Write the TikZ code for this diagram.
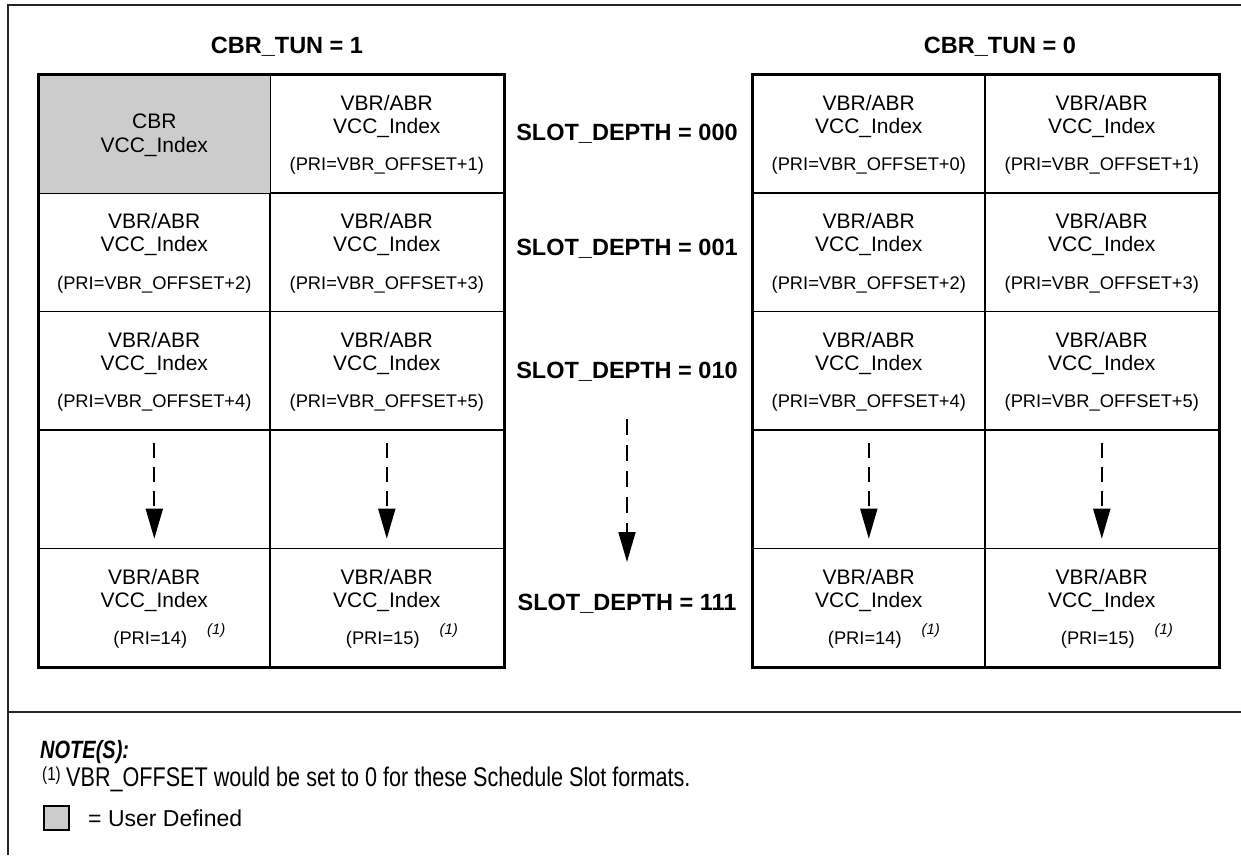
\documentclass[tikz,border=0pt]{standalone}
\usepackage{fontspec}
\setmainfont{Liberation Sans}
\newfontfamily\narrowfont[FakeStretch=0.8]{Liberation Sans}
\usetikzlibrary{arrows.meta}
\newcommand\vbrtext[2]{%
  \node[bigtxt] (#1a) at ([yshift=-29pt]#1.north) {VBR/ABR};
  \node[bigtxt] (#1b) at ([yshift=-54pt]#1.north) {VCC\_Index};
  \node[pritxt] (#1c) at ([yshift=-92pt]#1.north) {#2};}
\newcommand\lasttext[2]{%
  \node[bigtxt] (#1a) at ([yshift=-29pt]#1.north) {VBR/ABR};
  \node[bigtxt] (#1b) at ([yshift=-54pt]#1.north) {VCC\_Index};
  \node[pritxt] (#1c) at ([xshift=-4pt,yshift=-92pt]#1.north) {#2};
  \node[suptxt] (#1d) at ([xshift=62pt,yshift=-83pt]#1.north) {(1)};}
\begin{document}
\begin{tikzpicture}[x=1pt,y=-1pt,
  cellbox/.style={draw, line width=1.6pt, rectangle, minimum height=118.4pt, anchor=north west, inner sep=0pt},
  userfill/.style={fill=black!20},
  bigtxt/.style={font=\fontsize{21}{25}\selectfont, inner sep=0pt},
  pritxt/.style={font=\fontsize{18.3}{21}\selectfont, inner sep=0pt},
  suptxt/.style={font=\fontsize{15}{17}\selectfont\itshape, inner sep=0pt},
  hdrtxt/.style={font=\bfseries\fontsize{23.5}{28}\selectfont, inner sep=0pt},
  outerbox/.style={draw, line width=3pt},
  framelines/.style={draw=black!85, line width=1.8pt},
  dasharrow/.style={line width=1.8pt, dash pattern=on 15pt off 9pt, -{Triangle[length=30pt,width=17pt]}},
  notefont/.style={font=\narrowfont\fontsize{27}{31}\selectfont, inner sep=0pt, anchor=west},
]
\useasboundingbox (0,0) rectangle (1241,855);
% frame
\draw[framelines] (8,855) -- (8,5) -- (1241,5);
\draw[framelines] (8,712) -- (1241,712);

% titles
\node[hdrtxt] (t1) at (287,47) {CBR\_TUN = 1};
\node[hdrtxt] (t0) at (1000,47) {CBR\_TUN = 0};

% grids
\foreach \r/\y in {1/74,2/192.4,3/310.8,4/429.2,5/547.6}{
  \node[cellbox, minimum width=231pt] (L\r1) at (38,\y) {};
  \node[cellbox, minimum width=234pt] (L\r2) at (269,\y) {};
  \node[cellbox, minimum width=232pt] (R\r1) at (752,\y) {};
  \node[cellbox, minimum width=234pt] (R\r2) at (984,\y) {};
}
\fill[userfill] ([xshift=0.8pt,yshift=-0.8pt]L11.north west) rectangle ([xshift=-0.8pt,yshift=0.8pt]L11.south east);
\draw[outerbox] (L11.north west) rectangle (L52.south east);
\draw[outerbox] (R11.north west) rectangle (R52.south east);

% row 1
\node[bigtxt] (L11a) at ([yshift=13pt]L11.center) {CBR};
\node[bigtxt] (L11b) at ([yshift=-13pt]L11.center) {VCC\_Index};
\vbrtext{L12}{(PRI=VBR\_OFFSET+1)}
\vbrtext{R11}{(PRI=VBR\_OFFSET+0)}
\vbrtext{R12}{(PRI=VBR\_OFFSET+1)}
% row 2
\vbrtext{L21}{(PRI=VBR\_OFFSET+2)}
\vbrtext{L22}{(PRI=VBR\_OFFSET+3)}
\vbrtext{R21}{(PRI=VBR\_OFFSET+2)}
\vbrtext{R22}{(PRI=VBR\_OFFSET+3)}
% row 3
\vbrtext{L31}{(PRI=VBR\_OFFSET+4)}
\vbrtext{L32}{(PRI=VBR\_OFFSET+5)}
\vbrtext{R31}{(PRI=VBR\_OFFSET+4)}
\vbrtext{R32}{(PRI=VBR\_OFFSET+5)}
% row 5
\lasttext{L51}{(PRI=14)}
\lasttext{L52}{(PRI=15)}
\lasttext{R51}{(PRI=14)}
\lasttext{R52}{(PRI=15)}
% row 4 arrows
\foreach \c in {L41,L42,R41,R42}{
  \draw[dasharrow] ([yshift=-14pt]\c.north) -- ([yshift=10.5pt]\c.south);
}

% slot depth labels
\node[hdrtxt] (s000) at (627,134) {SLOT\_DEPTH = 000};
\node[hdrtxt] (s001) at (627,249) {SLOT\_DEPTH = 001};
\node[hdrtxt] (s010) at (627,372) {SLOT\_DEPTH = 010};
\node[hdrtxt] (s111) at (627,604) {SLOT\_DEPTH = 111};
\coordinate (mtop) at (627,419);
\coordinate (mbot) at (627,562);
\draw[dasharrow, dash pattern=on 16pt off 10pt] (mtop) -- (mbot);

% notes
\node[notefont, font=\narrowfont\bfseries\itshape\fontsize{25}{29}\selectfont] (notes) at (40,752) {NOTE(S):};
\node[notefont, font=\narrowfont\fontsize{19}{22}\selectfont] (fnmark) at (42,776) {(1)};
\node[notefont] (fn) at (66,779) {VBR\_OFFSET would be set to 0 for these Schedule Slot formats.};
\node[draw, fill=black!20, line width=1.5pt, minimum width=25pt, minimum height=24pt, inner sep=0pt] (legbox) at (56.5,818) {};
\node[inner sep=0pt, anchor=west, font=\fontsize{23}{27}\selectfont] (legtext) at (88,818) {= User Defined};
\end{tikzpicture}
\end{document}
